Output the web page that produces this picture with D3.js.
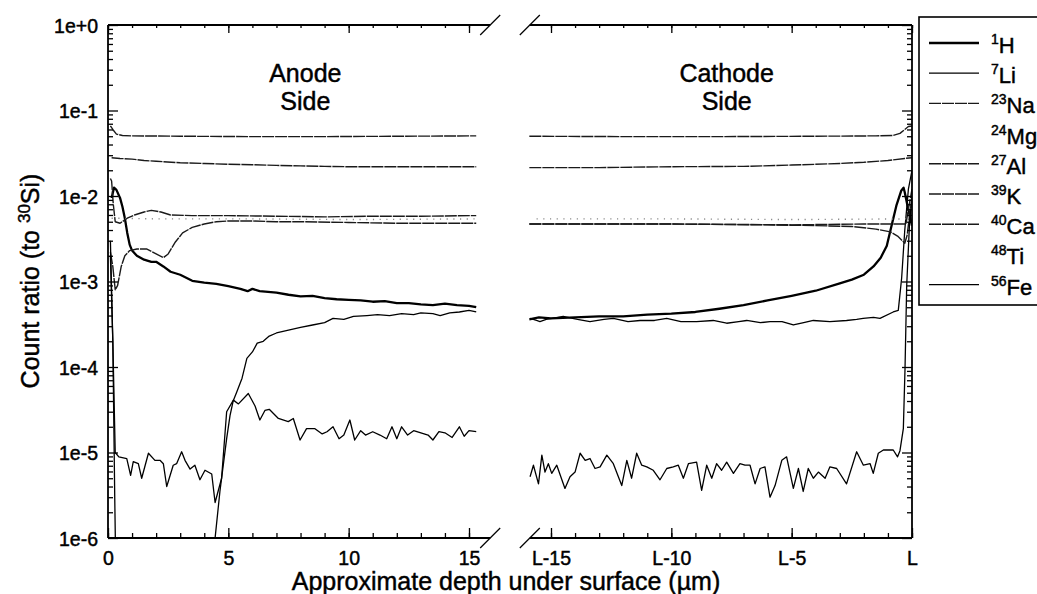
<!DOCTYPE html>
<html>
<head>
<meta charset="utf-8">
<script src="https://cdn.jsdelivr.net/npm/d3@7"></script>
<style>
  body { margin: 0; background: #fff; }
  svg { display: block; font-family: "Liberation Sans", Arial, Helvetica, sans-serif; }
  svg text { fill: #000; stroke: #000; stroke-width: 0.45px; }
</style>
</head>
<body>
<svg id="chart" width="1037" height="594"></svg>
<script>
// ---- Isotopes shown in the key ----
const legendMass   = [1, 7, 23, 24, 27, 39, 40, 48, 56];
const legendSymbol = ["H", "Li", "Na", "Mg", "Al", "K", "Ca", "Ti", "Fe"];

// ---- Axis ticks ----
const yMajor      = [1e-6, 1e-5, 1e-4, 1e-3, 1e-2, 1e-1, 1];
const yLabels     = ["1e-6", "1e-5", "1e-4", "1e-3", "1e-2", "1e-1", "1e+0"];
const anodeTicks  = [0, 5, 10, 15];
const anodeLabels = ["0", "5", "10", "15"];
const cathodeTicks  = [-15, -10, -5, 0];
const cathodeLabels = ["L-15", "L-10", "L-5", "L"];

// ---- Depth profiles, anode side: [depth (um), count ratio to 30Si] ----
const hAnode = [[0.15,0.0095],[0.25,0.0125],[0.35,0.0118],[0.5,0.0095],[0.6,0.0075],[0.7,0.0055],[0.8,0.0037],[0.9,0.0027],[1.0,0.0023],[1.2,0.002],[1.5,0.0018],[1.8,0.0017],[2.0,0.0017],[2.3,0.0015],[2.6,0.0013],[3.0,0.0012],[3.5,0.00102],[4.0,0.00097],[4.5,0.00094],[5.0,0.00088],[5.5,0.00082],[5.8,0.00077],[6.0,0.00082],[6.3,0.00077],[7.0,0.00074],[7.5,0.0007],[8.0,0.00067],[8.5,0.00068],[9.0,0.00064],[9.5,0.00062],[10.0,0.00061],[10.5,0.0006],[11.0,0.00058],[11.5,0.00059],[12.0,0.00056],[12.5,0.00056],[13.0,0.00054],[13.5,0.00053],[14.0,0.00055],[14.5,0.00053],[15.0,0.00052],[15.3,0.0005]];
const liAnode = [[0.1,0.002],[0.2,0.0002],[0.28,0.000003],[0.32,0.0000005],[4.4,0.0000005],[4.45,0.000001],[4.65,0.0000035],[4.93,0.0000145],[5.07,0.000027],[5.2,0.00004],[5.35,0.000051],[5.57,0.000074],[5.77,0.000126],[6.0,0.00015],[6.2,0.00019],[6.45,0.0002],[6.7,0.00023],[7.0,0.00025],[7.5,0.00027],[8.0,0.00029],[8.5,0.00031],[9.0,0.00033],[9.35,0.00037],[9.8,0.00036],[10.2,0.00039],[10.76,0.0004],[11.2,0.00041],[11.7,0.0004],[12.2,0.00042],[12.7,0.00041],[13.0,0.00043],[13.5,0.00042],[13.8,0.0004],[14.2,0.00043],[14.6,0.00044],[15.0,0.00046],[15.3,0.00044]];
const naAnode = [[0.15,0.028],[0.5,0.0275],[1.0,0.027],[1.5,0.026],[2.0,0.0255],[3.0,0.0245],[4.0,0.024],[5.0,0.0235],[6.0,0.0232],[7.0,0.0228],[8.0,0.0225],[9.0,0.0222],[10.0,0.022],[12.0,0.022],[15.3,0.022]];
const mgAnode = [[0.15,0.0055],[2.0,0.0054],[6.0,0.0054],[10.0,0.0053],[15.3,0.0054]];
const alAnode = [[0.1,0.066],[0.2,0.06],[0.35,0.053],[0.6,0.051],[1.0,0.0505],[3.0,0.05],[6.0,0.0495],[9.0,0.0495],[12.0,0.05],[15.3,0.0505]];
const kAnode  = [[0.1,0.0022],[0.2,0.0015],[0.3,0.0008],[0.4,0.0009],[0.55,0.0015],[0.7,0.002],[0.9,0.0023],[1.2,0.0024],[1.6,0.0024],[2.0,0.0021],[2.3,0.0019],[2.5,0.0021],[2.8,0.0029],[3.1,0.0037],[3.5,0.0043],[4.0,0.0047],[4.5,0.005],[5.0,0.0051],[6.0,0.0051],[7.0,0.005],[8.0,0.005],[10.0,0.0049],[12.0,0.0048],[15.3,0.0048]];
const caAnode = [[0.1,0.016],[0.15,0.015],[0.22,0.008],[0.3,0.005],[0.5,0.0048],[0.8,0.0055],[1.1,0.006],[1.5,0.0065],[1.8,0.0068],[2.2,0.0065],[2.6,0.006],[3.5,0.0059],[5.0,0.0059],[7.0,0.0058],[9.0,0.0057],[11.0,0.0058],[13.0,0.0058],[15.3,0.0059]];
const tiAnode = [];
const feAnode = [[0.1,0.003],[0.2,0.0002],[0.3,0.00001],[0.45,0.0000089],[0.78,0.0000085],[0.94,0.0000054],[1.05,0.0000078],[1.26,0.0000074],[1.4,0.000005],[1.68,0.0000098],[1.95,0.0000081],[2.16,0.0000081],[2.3,0.0000074],[2.44,0.000004],[2.71,0.0000071],[2.85,0.0000074],[3.06,0.0000102],[3.2,0.0000081],[3.41,0.0000064],[3.61,0.0000071],[3.82,0.0000048],[4.03,0.0000062],[4.31,0.0000056],[4.45,0.0000026],[4.72,0.000005],[4.93,0.00003],[5.21,0.000041],[5.42,0.000037],[5.83,0.000049],[6.11,0.000035],[6.31,0.000024],[6.52,0.000031],[6.7,0.000032],[7.08,0.000025],[7.49,0.000023],[7.7,0.000025],[7.98,0.000014],[8.25,0.000019],[8.6,0.000019],[8.9,0.0000165],[9.1,0.0000175],[9.35,0.00002],[9.6,0.0000145],[9.8,0.000016],[10.05,0.000024],[10.25,0.000014],[10.5,0.000018],[10.7,0.000016],[11.0,0.0000175],[11.3,0.000016],[11.58,0.0000145],[11.8,0.00002],[12.0,0.0000145],[12.2,0.00002],[12.45,0.000016],[12.7,0.000018],[13.0,0.000017],[13.3,0.000016],[13.5,0.000014],[13.75,0.0000175],[14.0,0.000017],[14.3,0.000015],[14.6,0.00002],[14.8,0.0000155],[15.0,0.000018],[15.3,0.0000175]];

// ---- Depth profiles, cathode side: [depth relative to L (um), count ratio] ----
const hCathode = [[-15.9,0.00036],[-15.5,0.00038],[-15.0,0.00037],[-14.0,0.00038],[-13.0,0.00039],[-12.0,0.00039],[-11.0,0.00041],[-10.0,0.00042],[-9.0,0.00044],[-8.0,0.00048],[-7.0,0.00053],[-6.0,0.0006],[-5.0,0.00068],[-4.0,0.00078],[-3.0,0.00095],[-2.5,0.00105],[-2.0,0.0012],[-1.6,0.0015],[-1.3,0.0019],[-1.05,0.0026],[-0.85,0.0045],[-0.65,0.0077],[-0.45,0.0115],[-0.35,0.0125],[-0.3,0.011],[-0.2,0.008],[-0.1,0.006],[0,0.0045]];
const liCathode = [[-15.87,0.00037],[-15.6,0.00035],[-15.46,0.00034],[-15.2,0.00036],[-14.49,0.00039],[-13.9,0.00036],[-13.38,0.00034],[-12.8,0.00036],[-12.41,0.00037],[-11.8,0.00034],[-11.3,0.00035],[-10.7,0.00035],[-10.19,0.00037],[-9.6,0.00034],[-8.95,0.00034],[-8.26,0.00035],[-7.7,0.000325],[-7.2,0.00034],[-6.87,0.00035],[-6.3,0.00033],[-5.9,0.00034],[-5.4,0.00034],[-4.93,0.00031],[-4.5,0.00033],[-4.1,0.00035],[-3.41,0.00034],[-2.72,0.00035],[-2.3,0.00036],[-2.03,0.00037],[-1.6,0.00038],[-1.33,0.00037],[-0.78,0.00044],[-0.57,0.00046],[-0.43,0.0011],[-0.3,0.004],[-0.15,0.012],[0,0.02]];
const naCathode = [[-15.9,0.0215],[-13.0,0.0215],[-10.0,0.022],[-7.0,0.0222],[-5.0,0.023],[-3.0,0.024],[-2.0,0.0248],[-1.0,0.026],[-0.3,0.0275],[0,0.028]];
const mgCathode = [[-15.6,0.0054],[-10.0,0.0054],[-5.0,0.0053],[-0.2,0.0054]];
const alCathode = [[-15.9,0.05],[-12.0,0.0495],[-8.0,0.0495],[-4.0,0.05],[-1.5,0.0505],[-0.8,0.051],[-0.5,0.054],[-0.3,0.06],[-0.15,0.065],[0,0.066]];
const kCathode  = [[-15.9,0.0047],[-10.0,0.0047],[-6.0,0.0046],[-4.0,0.0045],[-2.5,0.0044],[-1.5,0.0041],[-0.9,0.0038],[-0.6,0.0034],[-0.4,0.003],[-0.3,0.0028],[-0.2,0.0035],[-0.1,0.006],[0,0.009]];
const caCathode = [[-15.9,0.0047],[-10.0,0.0047],[-5.0,0.0046],[-2.0,0.0047],[-0.5,0.0047],[-0.25,0.0047],[-0.15,0.007],[0,0.012]];
const tiCathode = [];
const feCathode = [[-15.87,0.0000052],[-15.73,0.0000071],[-15.52,0.0000043],[-15.38,0.0000093],[-15.25,0.0000059],[-15.11,0.0000074],[-14.97,0.0000057],[-14.76,0.0000071],[-14.42,0.0000038],[-14.21,0.0000052],[-14.0,0.0000059],[-13.79,0.0000098],[-13.58,0.0000081],[-13.38,0.0000085],[-13.17,0.0000065],[-12.96,0.0000068],[-12.68,0.0000093],[-12.41,0.0000074],[-12.06,0.0000041],[-11.85,0.0000081],[-11.65,0.000005],[-11.44,0.0000098],[-11.23,0.0000071],[-11.02,0.0000068],[-10.75,0.0000062],[-10.47,0.0000048],[-10.19,0.0000065],[-9.92,0.0000068],[-9.71,0.0000071],[-9.5,0.000005],[-9.29,0.0000074],[-8.95,0.0000077],[-8.74,0.0000036],[-8.53,0.0000071],[-8.32,0.000005],[-8.12,0.0000074],[-7.91,0.0000062],[-7.7,0.0000077],[-7.42,0.0000057],[-7.15,0.0000074],[-6.94,0.0000071],[-6.73,0.0000071],[-6.52,0.0000043],[-6.31,0.0000065],[-6.11,0.0000068],[-5.9,0.000003],[-5.69,0.0000041],[-5.41,0.0000081],[-5.21,0.0000089],[-4.93,0.0000038],[-4.72,0.0000065],[-4.52,0.0000035],[-4.31,0.0000065],[-4.1,0.000005],[-3.89,0.0000059],[-3.61,0.000005],[-3.41,0.0000068],[-3.13,0.0000065],[-2.72,0.0000043],[-2.3,0.0000102],[-2.02,0.0000071],[-1.74,0.0000074],[-1.61,0.0000057],[-1.4,0.0000098],[-1.19,0.0000107],[-0.78,0.0000107],[-0.6,0.0000089],[-0.5,0.0000105],[-0.36,0.000019],[-0.29,0.000096],[-0.22,0.0009],[-0.1,0.005],[0,0.01]];

const anodeSeries   = [hAnode, liAnode, naAnode, mgAnode, alAnode, kAnode, caAnode, tiAnode, feAnode];
const cathodeSeries = [hCathode, liCathode, naCathode, mgCathode, alCathode, kCathode, caCathode, tiCathode, feCathode];

// ---- Line styles per isotope (same order as the key) ----
const lineStyle = [
  { w: 2.3, c: "#000", dash: null,      swatch: true  }, // 1H
  { w: 1.3, c: "#000", dash: null,      swatch: true  }, // 7Li
  { w: 1.4, c: "#1a1a1a", dash: "12 1", swatch: true  }, // 23Na
  { w: 1.4, c: "#888", dash: "1.2 5.5", swatch: false }, // 24Mg
  { w: 1.4, c: "#1a1a1a", dash: "12 1", swatch: true  }, // 27Al
  { w: 1.4, c: "#1a1a1a", dash: "12 1", swatch: true  }, // 39K
  { w: 1.4, c: "#1a1a1a", dash: "12 1", swatch: true  }, // 40Ca
  { w: 1.2, c: "#999", dash: null,      swatch: false }, // 48Ti
  { w: 1.3, c: "#000", dash: null,      swatch: true  }  // 56Fe
];

const svg = d3.select("#chart");

// ---- Scales ----
const y = d3.scaleLog().domain([1e-6, 1]).range([538, 25]);
const xA = d3.scaleLinear().domain([0, 15]).range([108, 469]);
const xC = d3.scaleLinear().domain([-15, 0]).range([551, 912]);
const yTop = y.range()[1], yBottom = y.range()[0];
const anodeEnd = xA(15.88);      // where the anode axis is broken off
const cathodeStart = xC(-15.88); // where the cathode axis resumes

// ---- Clip regions for each panel ----
const defs = svg.append("defs");
defs.append("clipPath").attr("id", "clipA").append("rect")
  .attr("x", xA(0)).attr("y", yTop).attr("width", anodeEnd - xA(0)).attr("height", yBottom - yTop);
defs.append("clipPath").attr("id", "clipC").append("rect")
  .attr("x", cathodeStart - 4).attr("y", yTop).attr("width", xC(0) - cathodeStart + 4).attr("height", yBottom - yTop);

// ---- Profiles ----
function drawPanel(series, xs, clip) {
  const g = svg.append("g").attr("clip-path", `url(#${clip})`);
  series.forEach((data, i) => {
    if (!data.length) return;
    const st = lineStyle[i];
    const line = d3.line().x(d => xs(d[0])).y(d => y(d[1]));
    g.append("path").datum(data)
      .attr("d", line)
      .attr("fill", "none")
      .attr("stroke", st.c)
      .attr("stroke-width", st.w)
      .attr("stroke-dasharray", st.dash)
      .attr("stroke-linejoin", "round");
  });
}
drawPanel(anodeSeries, xA, "clipA");
drawPanel(cathodeSeries, xC, "clipC");

// ---- Axes ----
const minorY = [];
yMajor.slice(0, -1).forEach(d => { for (let k = 2; k <= 9; k++) minorY.push(d * k); });
const minorA = d3.range(0, 16, 1);
const minorC = d3.range(-15, 1, 1);

function styleAxis(g) {
  g.select(".domain").remove();
  g.selectAll("line").attr("stroke", "#000").attr("stroke-width", 1.3);
  g.selectAll("text").attr("font-size", 19.5)
    .attr("font-family", '"Liberation Sans", Arial, sans-serif');
}

// left y axis of anode panel
svg.append("g").attr("transform", `translate(${xA(0)},0)`)
  .call(d3.axisLeft(y).tickValues(minorY).tickSize(-5).tickFormat("")).call(styleAxis);
svg.append("g").attr("transform", `translate(${xA(0)},0)`)
  .call(d3.axisLeft(y).tickValues(yMajor).tickSize(-10).tickPadding(10)
    .tickFormat((d, i) => yLabels[i])).call(styleAxis)
  .selectAll("text").attr("dy", "0.36em");

// right y axis of cathode panel
svg.append("g").attr("transform", `translate(${xC(0)},0)`)
  .call(d3.axisRight(y).tickValues(minorY).tickSize(-5).tickFormat("")).call(styleAxis);
svg.append("g").attr("transform", `translate(${xC(0)},0)`)
  .call(d3.axisRight(y).tickValues(yMajor).tickSize(-10).tickFormat("")).call(styleAxis);

// bottom and top x axes of both panels
function xAxes(xs, ticks, labels, minor) {
  svg.append("g").attr("transform", `translate(0,${yBottom})`)
    .call(d3.axisBottom(xs).tickValues(minor).tickSize(-5).tickFormat("")).call(styleAxis);
  svg.append("g").attr("transform", `translate(0,${yBottom})`)
    .call(d3.axisBottom(xs).tickValues(ticks).tickSize(-10).tickPadding(13)
      .tickFormat((d, i) => labels[i])).call(styleAxis);
  svg.append("g").attr("transform", `translate(0,${yTop})`)
    .call(d3.axisTop(xs).tickValues(minor).tickSize(-3).tickFormat("")).call(styleAxis);
  svg.append("g").attr("transform", `translate(0,${yTop})`)
    .call(d3.axisTop(xs).tickValues(ticks).tickSize(-8).tickFormat("")).call(styleAxis);
}
xAxes(xA, anodeTicks, anodeLabels, minorA);
xAxes(xC, cathodeTicks, cathodeLabels, minorC);

// axis lines
const frame = svg.append("g").attr("stroke", "#000").attr("stroke-width", 1.8).attr("fill", "none");
frame.append("line").attr("x1", xA(0)).attr("x2", xA(0)).attr("y1", yTop).attr("y2", yBottom);
frame.append("line").attr("x1", xA(0)).attr("x2", anodeEnd).attr("y1", yBottom).attr("y2", yBottom);
frame.append("line").attr("x1", xA(0)).attr("x2", anodeEnd).attr("y1", yTop).attr("y2", yTop);
frame.append("line").attr("x1", xC(0)).attr("x2", xC(0)).attr("y1", yTop).attr("y2", yBottom);
frame.append("line").attr("x1", cathodeStart).attr("x2", xC(0)).attr("y1", yBottom).attr("y2", yBottom);
frame.append("line").attr("x1", cathodeStart).attr("x2", xC(0)).attr("y1", yTop).attr("y2", yTop);

// axis-break marks
[[anodeEnd, yTop], [anodeEnd, yBottom], [cathodeStart, yTop], [cathodeStart, yBottom]].forEach(([cx, cy]) => {
  frame.append("line").attr("stroke-width", 1.3)
    .attr("x1", cx - 10).attr("y1", cy + 10).attr("x2", cx + 10).attr("y2", cy - 10);
});

// ---- Panel captions ----
const cap = svg.append("g").attr("font-size", 25).attr("text-anchor", "middle");
[["Anode", "Side", xA(8.2)], ["Cathode", "Side", xC(-7.7)]].forEach(([a, b, cx]) => {
  cap.append("text").attr("x", cx).attr("y", 82).text(a);
  cap.append("text").attr("x", cx).attr("y", 110).text(b);
});

// ---- Axis titles ----
svg.append("text").attr("x", 506).attr("y", 590).attr("text-anchor", "middle")
  .attr("font-size", 25).text("Approximate depth under surface (\u00B5m)");

const yt = svg.append("text").attr("transform", "translate(39,281) rotate(-90)")
  .attr("text-anchor", "middle").attr("font-size", 25);
yt.append("tspan").text("Count ratio (to ");
yt.append("tspan").attr("font-size", 17).attr("dy", -9).text("30");
yt.append("tspan").attr("dy", 9).text("Si)");

// ---- Key ----
const key = svg.append("g");
key.append("rect").attr("x", 919).attr("y", 17).attr("width", 140).attr("height", 288)
  .attr("fill", "#fff").attr("stroke", "#000").attr("stroke-width", 1.6);
legendSymbol.forEach((sym, i) => {
  const yy = 43 + i * 30.2;
  const st = lineStyle[i];
  if (st.swatch) {
    key.append("line").attr("x1", 929).attr("x2", 979).attr("y1", yy).attr("y2", yy)
      .attr("stroke", st.c).attr("stroke-width", st.w).attr("stroke-dasharray", st.dash);
  }
  const t = key.append("text").attr("x", 991).attr("y", yy + 10).attr("font-size", 22);
  t.append("tspan").attr("font-size", 14).attr("dy", -9).text(legendMass[i]);
  t.append("tspan").attr("dy", 9).text(sym);
});
</script>
</body>
</html>
